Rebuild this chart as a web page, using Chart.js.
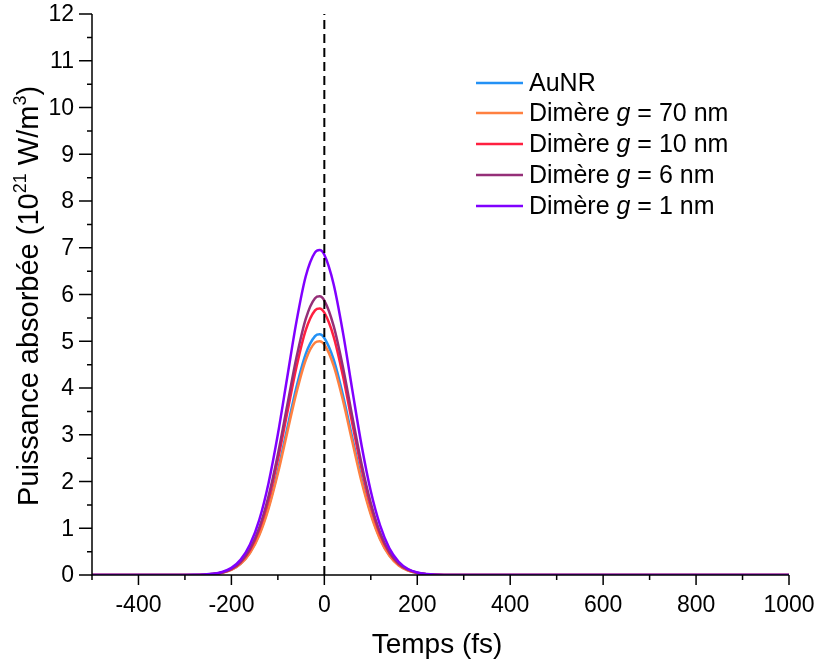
<!DOCTYPE html>
<html>
<head>
<meta charset="utf-8">
<script src="https://cdn.jsdelivr.net/npm/chart.js@4/dist/chart.umd.min.js"></script>
<style>
  html, body { margin: 0; padding: 0; background: #fff; }
  #wrap { width: 818px; height: 666px; }
</style>
</head>
<body>
<div id="wrap"><canvas id="myChart" width="818" height="666"></canvas></div>
<script>
    // time axis (fs)
    var times = [-500, -300, -280, -260, -240, -220, -200, -180, -160, -140, -120, -100, -80, -60, -40, -20, -10,
                 0, 20, 40, 60, 80, 100, 120, 140, 160, 180, 200, 220, 240, 260, 300, 1000];

    // absorbed power (10^21 W/m^3)
    var auNR   = [0, 0.001, 0.002, 0.007, 0.019, 0.048, 0.113, 0.244, 0.482, 0.876, 1.46, 2.23, 3.13, 4.02, 4.73, 5.11, 5.15,
                  5.07, 4.61, 3.85, 2.94, 2.06, 1.33, 0.783, 0.422, 0.211, 0.098, 0.041, 0.015, 0.005, 0.002, 0, 0];
    var dim70  = [0, 0.001, 0.002, 0.007, 0.018, 0.047, 0.110, 0.237, 0.468, 0.850, 1.42, 2.17, 3.04, 3.90, 4.60, 4.97, 5.00,
                  4.93, 4.48, 3.74, 2.86, 2.00, 1.29, 0.760, 0.410, 0.205, 0.095, 0.040, 0.015, 0.005, 0.002, 0, 0];
    var dim10  = [0, 0.001, 0.002, 0.007, 0.021, 0.053, 0.125, 0.270, 0.534, 0.969, 1.61, 2.47, 3.46, 4.45, 5.24, 5.66, 5.70,
                  5.61, 5.10, 4.26, 3.25, 2.28, 1.47, 0.866, 0.467, 0.234, 0.108, 0.046, 0.017, 0.006, 0.002, 0, 0];
    var dim6   = [0, 0.001, 0.002, 0.008, 0.021, 0.055, 0.131, 0.282, 0.558, 1.01, 1.69, 2.58, 3.62, 4.65, 5.48, 5.92, 5.96,
                  5.87, 5.33, 4.45, 3.40, 2.38, 1.54, 0.906, 0.489, 0.244, 0.113, 0.048, 0.018, 0.006, 0.002, 0, 0];
    var dim1   = [0, 0.001, 0.003, 0.009, 0.025, 0.065, 0.152, 0.329, 0.651, 1.18, 1.97, 3.01, 4.22, 5.42, 6.39, 6.90, 6.95,
                  6.85, 6.22, 5.19, 3.97, 2.78, 1.79, 1.06, 0.570, 0.284, 0.129, 0.054, 0.021, 0.007, 0.002, 0, 0];

    var seriesNames = ['AuNR', 'Dimère g = 70 nm', 'Dimère g = 10 nm', 'Dimère g = 6 nm', 'Dimère g = 1 nm'];
    var legendGap = ['70 nm', '10 nm', '6 nm', '1 nm'];
    var seriesColors = ['#2391f5', '#ff8040', '#ff2040', '#952f78', '#8000ff'];

    var xTicks = [-400, -200, 0, 200, 400, 600, 800, 1000];
    var xMinor = [-500, -300, -100, 100, 300, 500, 700, 900];
    var yTicks = [0, 1, 2, 3, 4, 5, 6, 7, 8, 9, 10, 11, 12];
    var yMinor = [0.5, 1.5, 2.5, 3.5, 4.5, 5.5, 6.5, 7.5, 8.5, 9.5, 10.5, 11.5];
    var markerLine = [{x: 0, y: 0}, {x: 0, y: 12}];

    var FONT = "'Liberation Sans', Arial, sans-serif";

    function pts(vals) {
        return times.map(function (t, i) { return {x: t, y: vals[i]}; });
    }

    var allSeries = [auNR, dim70, dim10, dim6, dim1];
    var datasets = allSeries.map(function (vals, i) {
        return {
            label: seriesNames[i],
            data: pts(vals),
            borderColor: seriesColors[i],
            borderWidth: 2.5,
            pointRadius: 0,
            fill: false,
            cubicInterpolationMode: 'monotone',
            order: 10 - i
        };
    });
    datasets.push({
        label: 'zero',
        data: markerLine,
        borderColor: '#000',
        borderWidth: 2,
        borderDash: [9, 5],
        pointRadius: 0,
        order: 0
    });

    // axes, ticks, titles and legend drawn by hand (minor ticks + superscripts)
    var decorations = {
        id: 'decorations',
        afterDraw: function (chart) {
            var ctx = chart.ctx;
            var xs = chart.scales.x, ys = chart.scales.y;
            var a = chart.chartArea;
            ctx.save();
            ctx.strokeStyle = '#000';
            ctx.fillStyle = '#000';
            ctx.lineWidth = 1.5;
            ctx.beginPath();
            ctx.moveTo(a.left, a.top);
            ctx.lineTo(a.left, a.bottom);
            ctx.lineTo(a.right, a.bottom);
            ctx.stroke();

            ctx.beginPath();
            xTicks.forEach(function (v) { var p = xs.getPixelForValue(v); ctx.moveTo(p, a.bottom); ctx.lineTo(p, a.bottom + 10); });
            xMinor.forEach(function (v) { var p = xs.getPixelForValue(v); ctx.moveTo(p, a.bottom); ctx.lineTo(p, a.bottom + 5); });
            yTicks.forEach(function (v) { var p = ys.getPixelForValue(v); ctx.moveTo(a.left, p); ctx.lineTo(a.left - 13, p); });
            yMinor.forEach(function (v) { var p = ys.getPixelForValue(v); ctx.moveTo(a.left, p); ctx.lineTo(a.left - 5, p); });
            ctx.stroke();

            ctx.font = '23px ' + FONT;
            ctx.textAlign = 'center';
            ctx.textBaseline = 'middle';
            xTicks.forEach(function (v) { ctx.fillText(String(v), xs.getPixelForValue(v), a.bottom + 31); });
            ctx.textAlign = 'right';
            yTicks.forEach(function (v) { ctx.fillText(String(v), a.left - 18, ys.getPixelForValue(v) + 1); });

            // x title
            ctx.font = '28px ' + FONT;
            ctx.textAlign = 'center';
            ctx.textBaseline = 'alphabetic';
            ctx.fillText('Temps (fs)', 437, 653);

            // y title with superscripts
            var parts = [
                ['Puissance absorbée (10', 29, 0],
                ['21', 18, -12],
                [' W/m', 29, 0],
                ['3', 18, -12],
                [')', 29, 0]
            ];
            var total = 0;
            parts.forEach(function (p) { ctx.font = p[1] + 'px ' + FONT; total += ctx.measureText(p[0]).width; });
            ctx.translate(38, 296);
            ctx.rotate(-Math.PI / 2);
            ctx.textAlign = 'left';
            var cx = -total / 2;
            parts.forEach(function (p) {
                ctx.font = p[1] + 'px ' + FONT;
                ctx.fillText(p[0], cx, p[2]);
                cx += ctx.measureText(p[0]).width;
            });
            ctx.setTransform(1, 0, 0, 1, 0, 0);

            // legend
            var ly = [83, 113, 144, 175, 206];
            ctx.textBaseline = 'middle';
            ctx.lineWidth = 2.5;
            for (var i = 0; i < 5; i++) {
                ctx.strokeStyle = seriesColors[i];
                ctx.beginPath();
                ctx.moveTo(476, ly[i]);
                ctx.lineTo(523, ly[i]);
                ctx.stroke();
                var tx = 529;
                var ty = ly[i] + 1;
                ctx.font = '25px ' + FONT;
                if (i === 0) {
                    ctx.fillText(seriesNames[0], tx, ty);
                } else {
                    ctx.fillText('Dimère ', tx, ty);
                    tx += ctx.measureText('Dimère ').width;
                    ctx.font = 'italic 25px ' + FONT;
                    ctx.fillText('g', tx, ty);
                    tx += ctx.measureText('g').width;
                    ctx.font = '25px ' + FONT;
                    ctx.fillText(' = ' + legendGap[i - 1], tx, ty);
                }
            }
            ctx.restore();
        }
    };

    var ctx = document.getElementById('myChart').getContext('2d');
    var myChart = new Chart(ctx, {
        type: 'line',
        data: { datasets: datasets },
        options: {
            responsive: false,
            animation: false,
            layout: { padding: { top: 14, right: 29, left: 0, bottom: 0 } },
            plugins: { legend: { display: false }, tooltip: { enabled: false } },
            scales: {
                x: {
                    type: 'linear', min: -500, max: 1000,
                    grid: { display: false }, border: { display: false },
                    ticks: { display: false },
                    afterFit: function (s) { s.height = 91; }
                },
                y: {
                    type: 'linear', min: 0, max: 12,
                    grid: { display: false }, border: { display: false },
                    ticks: { display: false },
                    afterFit: function (s) { s.width = 92; }
                }
            }
        },
        plugins: [decorations]
    });
</script>
</body>
</html>
